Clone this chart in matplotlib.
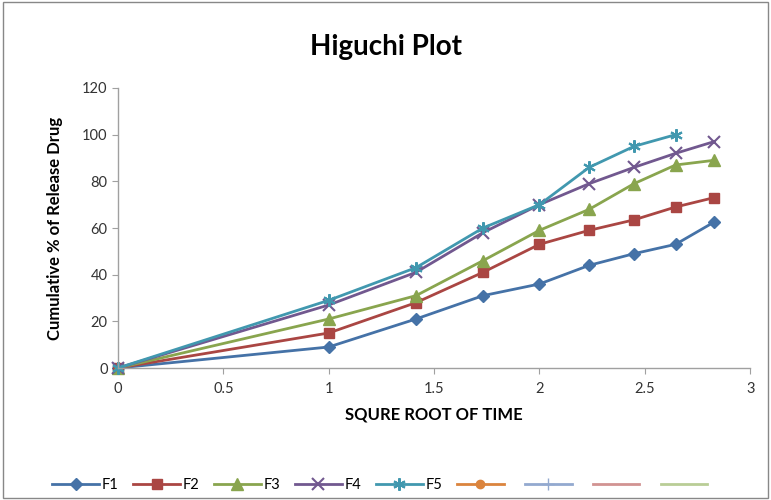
import matplotlib.pyplot as plt
from matplotlib.patches import Rectangle

plt.rcParams['font.family'] = ['Lato', 'DejaVu Sans']

# square root of time
x = [0, 1, 1.414, 1.732, 2, 2.236, 2.449, 2.646, 2.828]
x_f5 = x[:8]

f1 = [0, 9, 21, 31, 36, 44, 49, 53, 62.5]
f2 = [0, 15, 28, 41, 53, 59, 63.5, 69, 73]
f3 = [0, 21, 31, 46, 59, 68, 79, 87, 89]
f4 = [0, 27, 41, 58, 70, 79, 86, 92, 97]
f5 = [0, 29, 43, 60, 70, 86, 95, 100]

labels = ['F1', 'F2', 'F3', 'F4', 'F5']
x_ticks = [0, 0.5, 1, 1.5, 2, 2.5, 3]
y_ticks = [0, 20, 40, 60, 80, 100, 120]

fig = plt.figure(figsize=(7.71, 5), dpi=100)
ax = fig.add_axes([0.153, 0.264, 0.820, 0.560])

ax.plot(x, f1, color='#4572A7', marker='D', markersize=6, lw=2, label=labels[0], clip_on=False)
ax.plot(x, f2, color='#AA4643', marker='s', markersize=7, lw=2, label=labels[1], clip_on=False)
ax.plot(x, f3, color='#89A54E', marker='^', markersize=8, lw=2, label=labels[2], clip_on=False)
ax.plot(x, f4, color='#71588F', marker='x', markersize=8, mew=1.5, lw=2, label=labels[3], clip_on=False)
ax.plot(x_f5, f5, color='#4198AF', marker=(6, 2, 0), markersize=9, mew=1.5, lw=2, label=labels[4], clip_on=False)

# empty series that only show up in the legend
ax.plot([], [], color='#DB843D', marker='o', markersize=6, lw=2, label=' ')
ax.plot([], [], color='#93A9CF', marker='+', markersize=9, lw=2, label=' ')
ax.plot([], [], color='#D19392', lw=2, label=' ')
ax.plot([], [], color='#B9CD96', lw=2, label=' ')

ax.set_xlim(0, 3)
ax.set_ylim(0, 120)
ax.set_xticks(x_ticks)
ax.set_xticklabels(['0', '0.5', '1', '1.5', '2', '2.5', '3'])
ax.set_yticks(y_ticks)

for s in ['top', 'right']:
    ax.spines[s].set_visible(False)
for s in ['left', 'bottom']:
    ax.spines[s].set_color('#A0A0A0')
    ax.spines[s].set_linewidth(1)
ax.tick_params(colors='#A0A0A0', labelcolor='#333333', labelsize=10.5, length=4)
ax.tick_params(axis='x', pad=6)

ax.set_xlabel('SQURE ROOT OF TIME', fontsize=12, fontweight='bold', labelpad=8)
ax.set_ylabel('Cumulative % of Release Drug', fontsize=12, fontweight='bold', labelpad=14)
fig.text(0.5, 0.905, 'Higuchi Plot', ha='center', va='center', fontsize=20, fontweight='bold')

fig.legend(loc='center', bbox_to_anchor=(0.497, 0.03), ncol=9, frameon=False,
           fontsize=10.5, handlelength=3.2, columnspacing=1.0, handletextpad=0.2)

fig.patches.append(Rectangle((0.004, 0.004), 0.992, 0.992, transform=fig.transFigure,
                             fill=False, edgecolor='#888888', lw=1))

fig.savefig('out.png', dpi=100)
